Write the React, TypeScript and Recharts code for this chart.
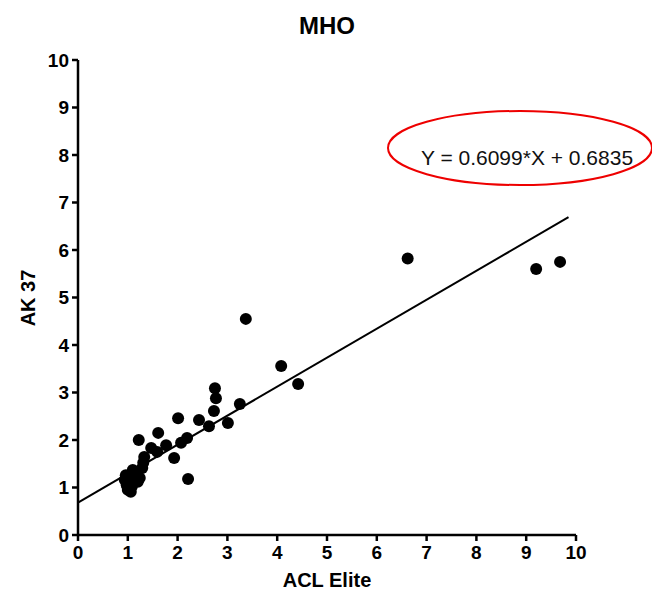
import { ScatterChart, Scatter, XAxis, YAxis, ReferenceLine } from 'recharts';

// ACL Elite (x) vs AK 37 (y)
const aclElite = [
  6.62, 9.2, 9.68, 3.37, 4.08, 4.42, 2.75, 2.77, 3.25, 2.73, 2.01, 2.43, 3.01, 2.63,
  1.61, 1.22, 2.19, 2.07, 1.77, 1.47, 1.59, 1.33, 1.93, 1.31, 1.29, 2.21, 1.1, 1.24,
  0.94, 0.98, 1.04, 1.1, 1.0, 1.06, 0.96, 1.14, 1.2, 1.02, 1.08,
];
const ak37 = [
  5.82, 5.6, 5.75, 4.55, 3.56, 3.18, 3.09, 2.88, 2.76, 2.61, 2.46, 2.42, 2.36, 2.29,
  2.15, 2.0, 2.04, 1.94, 1.89, 1.83, 1.75, 1.64, 1.62, 1.52, 1.41, 1.18, 1.37, 1.2,
  1.16, 1.05, 1.2, 1.09, 0.95, 0.91, 1.26, 1.26, 1.12, 1.12, 1.02,
];
const ticks = [0, 1, 2, 3, 4, 5, 6, 7, 8, 9, 10];

const slope = 0.6099;
const intercept = 0.6835;
const fitXMin = 0;
const fitXMax = 9.85;

const points = aclElite.map((x, i) => ({ x, y: ak37[i] }));
const font = '"Liberation Sans", Arial, sans-serif';

const Dot = (props: any) => <circle cx={props.cx} cy={props.cy} r={6} fill="#000" />;

export default function App() {
  const tick = { fill: '#000', fontSize: 19, fontWeight: 700, fontFamily: font };
  return (
    <div style={{ position: 'absolute', left: 0, top: 0, width: 652, height: 591, background: '#fff' }}>
      <ScatterChart width={652} height={591} margin={{ top: 60, right: 76, bottom: 0, left: 0 }}>
        <XAxis
          type="number"
          dataKey="x"
          domain={[0, 10]}
          ticks={ticks}
          allowDataOverflow
          height={56}
          stroke="#000"
          strokeWidth={2.5}
          tickSize={6}
          tickMargin={5}
          tick={tick}
        />
        <YAxis
          type="number"
          dataKey="y"
          domain={[0, 10]}
          ticks={ticks}
          allowDataOverflow
          width={78}
          stroke="#000"
          strokeWidth={2.5}
          tickSize={6}
          tickMargin={3}
          tick={tick}
        />
        <ReferenceLine
          segment={[
            { x: fitXMin, y: slope * fitXMin + intercept },
            { x: fitXMax, y: slope * fitXMax + intercept },
          ]}
          stroke="#000"
          strokeWidth={2}
        />
        <Scatter data={points} fill="#000" shape={Dot} isAnimationActive={false} />
      </ScatterChart>
      <svg width={652} height={591} style={{ position: 'absolute', left: 0, top: 0, pointerEvents: 'none' }}>
        <text x={327} y={34} textAnchor="middle" fontFamily={font} fontWeight={700} fontSize={24} fill="#000">
          MHO
        </text>
        <text x={327} y={587} textAnchor="middle" fontFamily={font} fontWeight={700} fontSize={20} fill="#000">
          ACL Elite
        </text>
        <text
          x={0}
          y={0}
          transform="translate(35, 298) rotate(-90)"
          textAnchor="middle"
          fontFamily={font}
          fontWeight={700}
          fontSize={20}
          fill="#000"
        >
          AK 37
        </text>
        <ellipse cx={520} cy={148} rx={132} ry={37} fill="none" stroke="#e00" strokeWidth={2} />
        <text x={527} y={165} textAnchor="middle" fontFamily={font} fontSize={21} fill="#111">
          Y = 0.6099*X + 0.6835
        </text>
      </svg>
    </div>
  );
}
